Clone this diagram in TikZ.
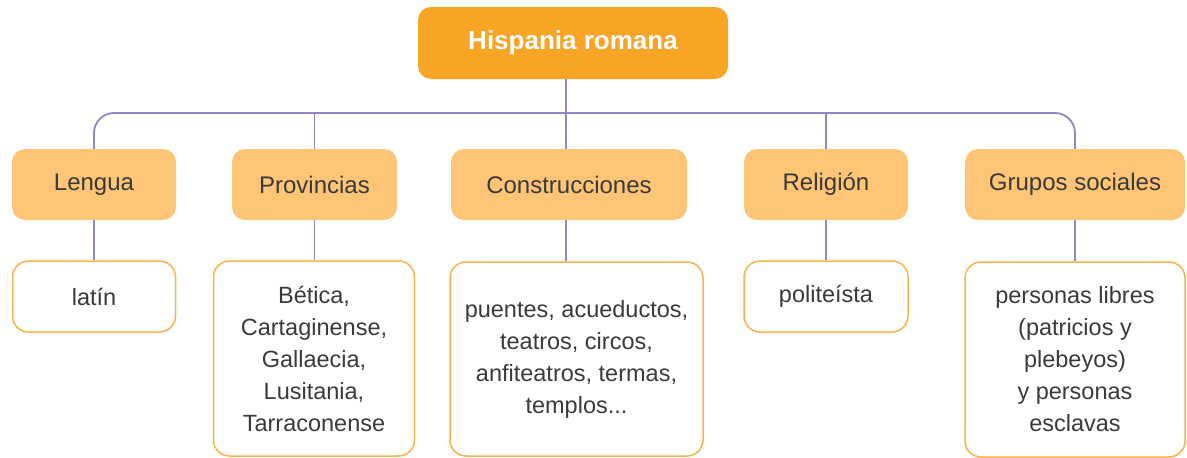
\documentclass[tikz,border=0pt]{standalone}
\usepackage{fontspec}
\setmainfont{Liberation Sans}
\definecolor{topfill}{HTML}{F8A424}
\definecolor{catfill}{HTML}{FDC575}
\definecolor{leafline}{HTML}{FBB24A}
\definecolor{connc}{HTML}{8C88C4}
\definecolor{txt}{HTML}{3A3A3A}
\tikzset{
  topbox/.style={rectangle, rounded corners=13pt, fill=topfill, text=white, font=\fontsize{26}{30}\selectfont\bfseries, minimum width=310pt, minimum height=72pt, inner sep=0pt},
  catbox/.style={rectangle, rounded corners=13pt, fill=catfill, text=txt, font=\fontsize{24}{28}\selectfont, minimum height=71pt, inner sep=0pt},
  leafbox/.style={rectangle, rounded corners=16pt, draw=leafline, line width=1.5pt, fill=white, text=txt, font=\fontsize{23.5}{32}\selectfont, align=center, inner sep=0pt},
  conn/.style={draw=connc, line width=1.8pt}
}
\begin{document}
\begin{tikzpicture}[x=1pt,y=-1pt]
\useasboundingbox (0,0) rectangle (1187,458);
\fill[white] (0,0) rectangle (1187,458);
% top
\node[topbox] (top) at (573,43) {Hispania romana};
% categories
\node[catbox, minimum width=164pt] (cl) at (94,184.5) {Lengua};
\node[catbox, minimum width=165pt] (cp) at (314.5,184.5) {Provincias};
\node[catbox, minimum width=236pt] (cc) at (569,184.5) {Construcciones};
\node[catbox, minimum width=164pt] (cr) at (826,184.5) {Religión};
\node[catbox, minimum width=220pt] (cg) at (1075,184.5) {Grupos sociales};
% leaves
\node[leafbox, minimum width=163pt, minimum height=71pt] (ll) at (94,296.5) {latín};
\node[leafbox, minimum width=201pt, minimum height=195pt] (lp) at (314,358.5) {Bética,\\Cartaginense,\\Gallaecia,\\Lusitania,\\Tarraconense};
\node[leafbox, minimum width=253pt, minimum height=194pt] (lc) at (576.5,359) {puentes, acueductos,\\teatros, circos,\\anfiteatros, termas,\\templos...};
\node[leafbox, minimum width=164pt, minimum height=71pt] (lr) at (826,296.5) {politeísta};
\node[leafbox, minimum width=220pt, minimum height=195pt] (lg) at (1075,359.5) {personas libres\\(patricios y\\plebeyos)\\y personas\\esclavas};
% connectors
\coordinate (bus) at (566,113);
\begin{scope}[on background layer/.try]
\end{scope}
\draw[conn] (top.south -| bus) -- (bus);
\draw[conn, rounded corners=20pt] (cl.north) -- (cl.north |- bus) -- (cg.north |- bus) -- (cg.north);
\draw[conn] (cp.north |- bus) -- (cp.north);
\draw[conn] (bus) -- (cc.north -| bus);
\draw[conn] (cr.north |- bus) -- (cr.north);
\draw[conn] (cl.south) -- (ll.north);
\draw[conn] (cp.south) -- (lp.north -| cp.south);
\draw[conn] (cc.south -| bus) -- (lc.north -| bus);
\draw[conn] (cr.south) -- (lr.north);
\draw[conn] (cg.south) -- (lg.north);
\end{tikzpicture}
\end{document}
